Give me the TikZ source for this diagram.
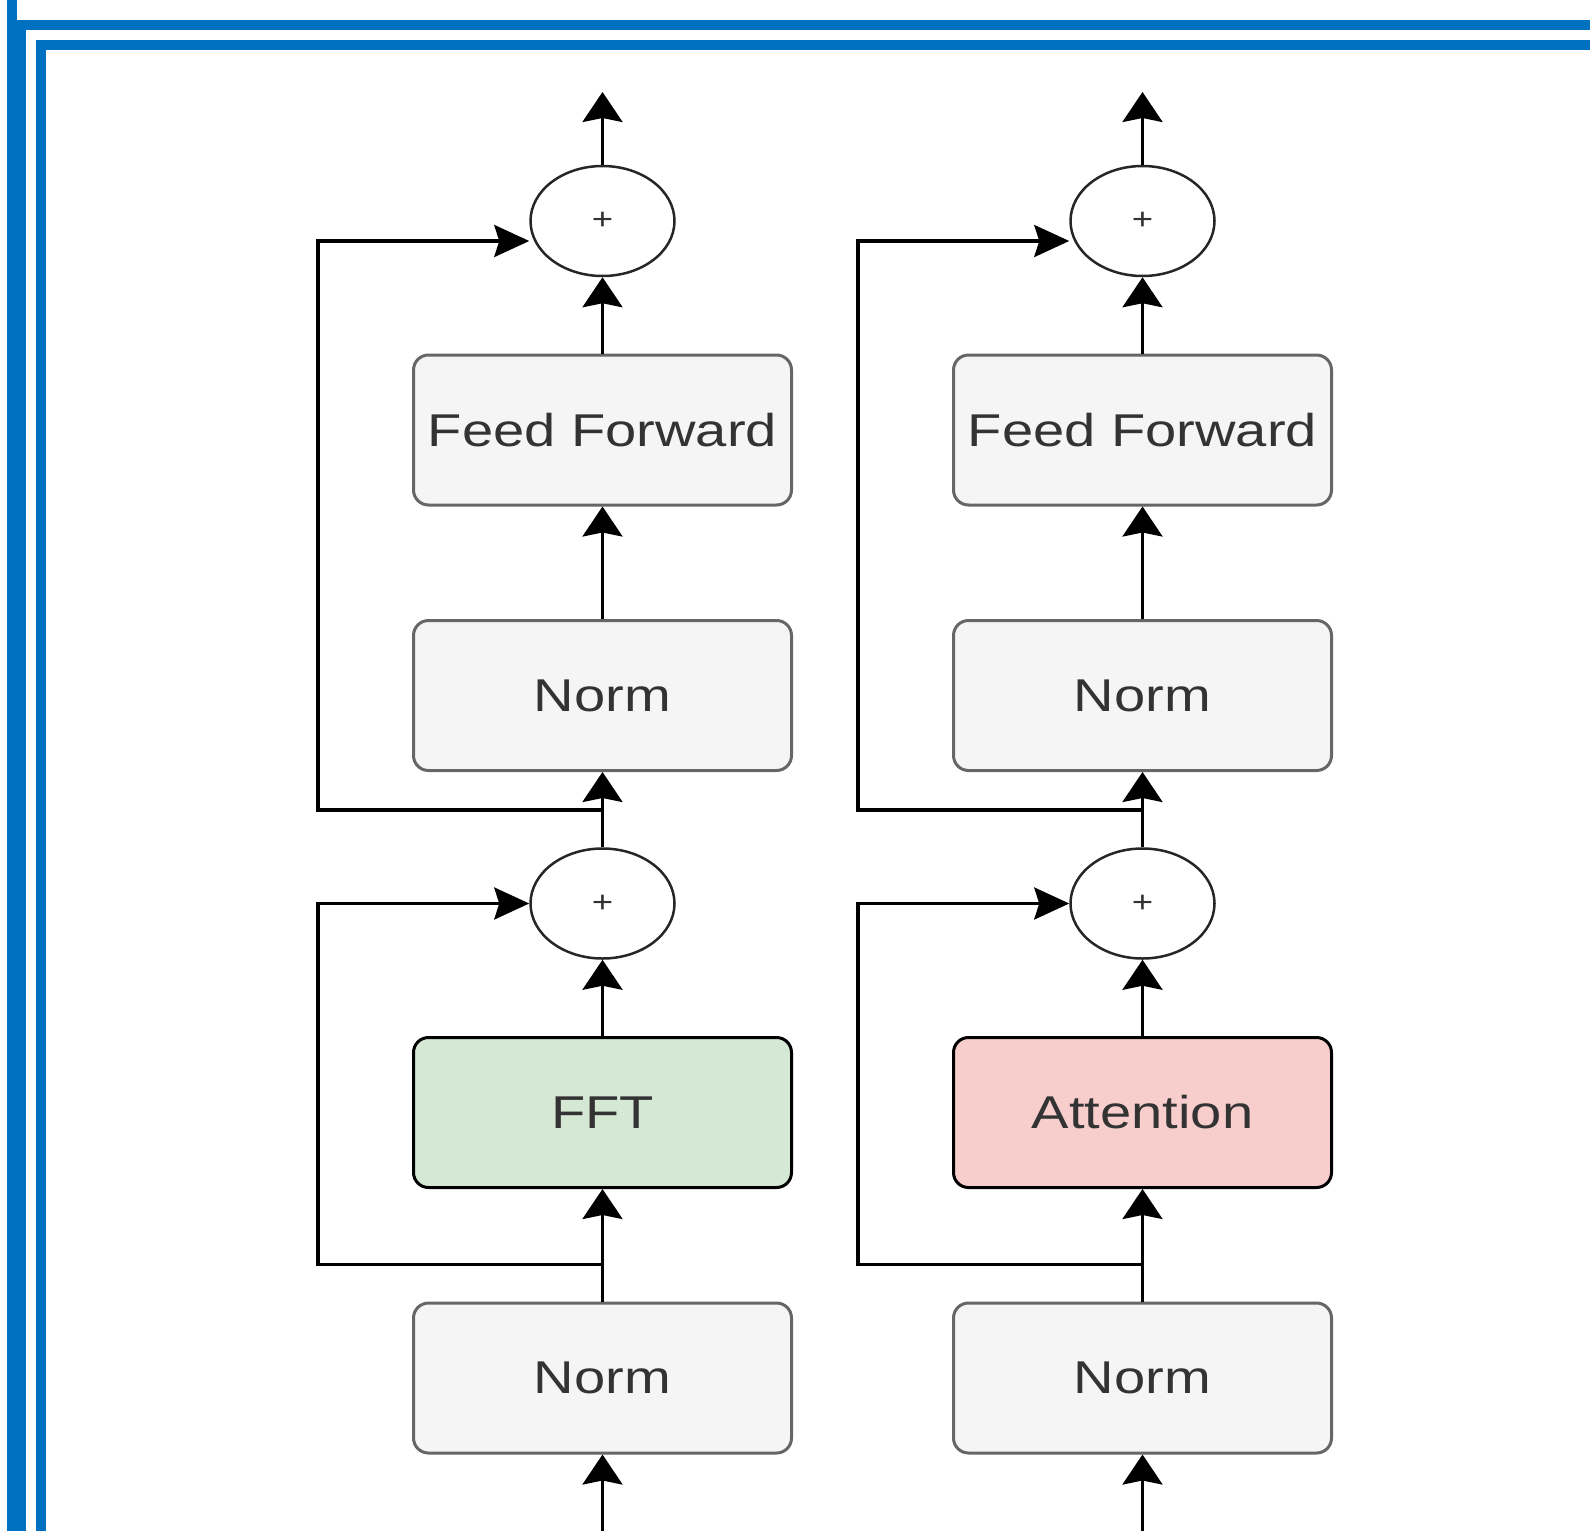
\documentclass[tikz,border=0pt]{standalone}
\usepackage{fontspec}
\usepackage{graphicx}
\setmainfont{Liberation Sans}
\usetikzlibrary{arrows.meta,shapes.geometric,calc}
\definecolor{frameblue}{RGB}{0,112,192}
\definecolor{boxgray}{HTML}{F5F5F5}
\definecolor{boxline}{HTML}{666666}
\definecolor{txtgray}{HTML}{333333}
\definecolor{fftgreen}{HTML}{D5E8D4}
\definecolor{attred}{HTML}{F8CECC}
\newcommand\stx[1]{\scalebox{1.22}[1]{#1}}
\tikzset{
  blockbox/.style={rectangle, rounded corners=15pt, line width=3pt, inner sep=0pt,
    minimum width=378pt, minimum height=150pt, text=txtgray,
    font=\fontsize{46}{50}\selectfont},
  graybox/.style={blockbox, draw=boxline, fill=boxgray},
  fftbox/.style={blockbox, draw=black, fill=fftgreen},
  attbox/.style={blockbox, draw=black, fill=attred},
  sumnode/.style={ellipse, draw=black!85, line width=2.5pt, fill=white, inner sep=0pt,
    minimum width=144pt, minimum height=110pt, text=txtgray,
    font=\fontsize{30}{32}\selectfont},
  varr/.style={line width=3.2pt, -{Stealth[length=30pt,width=40pt,inset=4pt]}},
  harr/.style={line width=3.2pt, -{Stealth[length=35pt,width=32pt,inset=5pt]}},
}
\begin{document}
\begin{tikzpicture}[x=1pt,y=-1pt]
\useasboundingbox (0,0) rectangle (1590,1531);
% frame
\fill[frameblue] (7,0) rectangle (17,1531);
\fill[frameblue] (17,20) rectangle (26,1531);
\fill[frameblue] (17,20) rectangle (1590,30);
\fill[frameblue] (36,40) rectangle (46,1531);
\fill[frameblue] (36,40) rectangle (1590,50);

\foreach \cx/\nm/\st/\lab in {602.5/L/fftbox/FFT, 1142.5/R/attbox/Attention}{
  \node[sumnode] (top\nm) at (\cx,221) {\stx{+}};
  \node[graybox] (ff\nm) at (\cx,430) {\stx{Feed Forward}};
  \node[graybox] (n1\nm) at (\cx,695.5) {\stx{Norm}};
  \node[sumnode] (mid\nm) at (\cx,903.5) {\stx{+}};
  \node[\st] (core\nm) at (\cx,1112.5) {\stx{\lab}};
  \node[graybox] (n0\nm) at (\cx,1378) {\stx{Norm}};
  \coordinate (out\nm) at (\cx,92);
  \coordinate (in\nm) at (\cx,1531);
  \coordinate (bu\nm) at (\cx,810);
  \coordinate (bl\nm) at (\cx,1264.5);
  \coordinate (side\nm) at (\cx-284.5,0);
  \coordinate (tu\nm) at ([yshift=-20pt]top\nm.west);
  % main flow
  \draw[varr] (in\nm) -- (n0\nm.south);
  \draw[varr] (n0\nm.north) -- (core\nm.south);
  \draw[varr] (core\nm.north) -- (mid\nm.south);
  \draw[varr] (mid\nm.north) -- (n1\nm.south);
  \draw[varr] (n1\nm.north) -- (ff\nm.south);
  \draw[varr] (ff\nm.north) -- (top\nm.south);
  \draw[varr] (top\nm.north) -- (out\nm);
  % skip connections
  \draw[harr] (bl\nm) -- (bl\nm -| side\nm) |- (mid\nm.west);
  \draw[harr] (bu\nm) -- (bu\nm -| side\nm) |- (tu\nm);
}
\end{tikzpicture}
\end{document}
